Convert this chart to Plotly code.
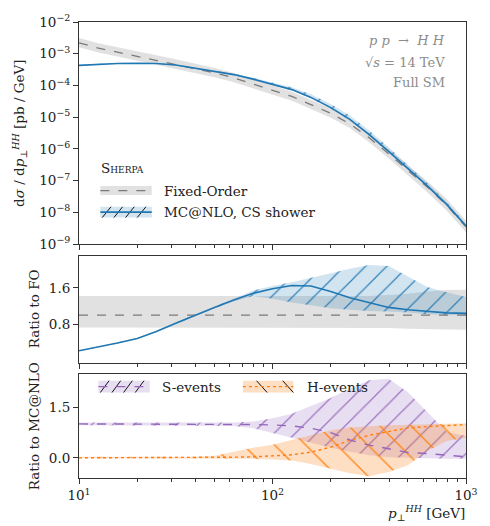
import plotly.graph_objects as go
import numpy as np

# ---------------- data ----------------
pt = [10, 12.6, 15.8, 20, 25.1, 31.6, 39.8, 50.1, 63.1, 79.4, 100, 126, 158, 200,
      251, 316, 398, 501, 631, 794, 1000]

# top panel: d sigma / d pT  [pb/GeV]
fo_xsec = [2.19e-3, 1.51e-3, 1.12e-3, 8.3e-4, 6.3e-4, 4.7e-4, 3.5e-4, 2.5e-4, 1.74e-4,
           1.12e-4, 7.2e-5, 4.5e-5, 2.5e-5, 1.32e-5, 6.2e-6, 2.24e-6, 7.1e-7, 2.14e-7,
           6.3e-8, 1.70e-8, 3.5e-9]
mc_xsec = [4.3e-4, 4.7e-4, 4.9e-4, 5.0e-4, 4.9e-4, 4.4e-4, 3.5e-4, 2.8e-4, 2.2e-4,
           1.58e-4, 1.10e-4, 7.4e-5, 4.2e-5, 2.0e-5, 8.5e-6, 2.8e-6, 8.3e-7, 2.4e-7,
           6.8e-8, 1.78e-8, 3.7e-9]
# MC@NLO uncertainty band in the top panel (relative to central value)
mc_top_lo = [0.97, 0.97, 0.97, 0.97, 0.97, 0.97, 0.97, 0.97, 0.96, 0.95, 0.94, 0.93,
             0.93, 0.93, 0.93, 0.93, 0.93, 0.93, 0.93, 0.94, 0.94]
mc_top_hi = [1.03, 1.03, 1.03, 1.03, 1.03, 1.03, 1.04, 1.05, 1.07, 1.10, 1.14, 1.19,
             1.25, 1.30, 1.34, 1.36, 1.36, 1.30, 1.24, 1.20, 1.16]

# middle panel: ratio to fixed order
fo_band_lo = [0.73, 0.73, 0.73, 0.73, 0.73, 0.73, 0.73, 0.73, 0.73, 0.73, 0.73, 0.73,
              0.73, 0.73, 0.73, 0.73, 0.72, 0.70, 0.69, 0.68, 0.68]
fo_band_hi = [1.42, 1.42, 1.42, 1.42, 1.42, 1.42, 1.42, 1.42, 1.42, 1.42, 1.42, 1.42,
              1.42, 1.42, 1.42, 1.42, 1.44, 1.47, 1.52, 1.55, 1.56]
mc_ratio = [0.22, 0.30, 0.39, 0.49, 0.64, 0.82, 1.00, 1.17, 1.33, 1.48, 1.58, 1.65,
            1.64, 1.52, 1.38, 1.27, 1.17, 1.12, 1.08, 1.05, 1.04]
mc_band_lo = [0.21, 0.29, 0.38, 0.48, 0.63, 0.80, 0.98, 1.15, 1.30, 1.42, 1.36, 1.28,
              1.22, 1.15, 1.12, 1.09, 1.08, 1.06, 1.02, 1.00, 1.00]
mc_band_hi = [0.23, 0.31, 0.40, 0.50, 0.65, 0.84, 1.02, 1.19, 1.36, 1.54, 1.64, 1.72,
              1.82, 1.92, 2.02, 2.10, 2.08, 1.85, 1.62, 1.50, 1.40]

# bottom panel: ratio to MC@NLO
s_ratio = [1.01, 1.01, 1.01, 1.01, 1.01, 1.01, 1.00, 1.00, 1.00, 0.99, 0.98, 0.95,
           0.88, 0.75, 0.53, 0.38, 0.27, 0.16, 0.13, 0.09, 0.03]
s_lo = [0.97, 0.97, 0.97, 0.97, 0.97, 0.97, 0.97, 0.97, 0.95, 0.88, 0.75, 0.60,
        0.45, 0.30, 0.18, 0.08, 0.02, 0.00, -0.02, -0.03, -0.03]
s_hi = [1.05, 1.05, 1.05, 1.05, 1.05, 1.05, 1.05, 1.05, 1.05, 1.08, 1.18, 1.31,
        1.54, 1.78, 2.06, 2.31, 2.35, 1.95, 1.35, 0.78, 0.65]
h_ratio = [0.0, 0.0, 0.0, 0.0, 0.0, 0.0, 0.01, 0.01, 0.02, 0.03, 0.05, 0.09,
           0.17, 0.32, 0.52, 0.67, 0.78, 0.89, 0.93, 0.96, 0.99]
h_lo = [-0.01, -0.01, -0.01, -0.01, -0.01, -0.01, -0.01, -0.01, -0.02, -0.03, -0.05,
        -0.08, -0.18, -0.33, -0.46, -0.55, -0.42, -0.22, 0.20, 0.50, 0.60]
h_hi = [0.03, 0.03, 0.03, 0.03, 0.03, 0.03, 0.03, 0.06, 0.18, 0.30, 0.39, 0.55,
        0.68, 0.82, 0.90, 0.94, 0.97, 1.00, 1.00, 1.02, 1.03]

x_tickvals = [10, 100, 1000]
x_ticktext = ["10<sup>1</sup>", "10<sup>2</sup>", "10<sup>3</sup>"]
y_tickvals = [1e-9, 1e-8, 1e-7, 1e-6, 1e-5, 1e-4, 1e-3, 1e-2]
y_ticktext = ["10<sup>\u22129</sup>", "10<sup>\u22128</sup>", "10<sup>\u22127</sup>",
              "10<sup>\u22126</sup>", "10<sup>\u22125</sup>", "10<sup>\u22124</sup>",
              "10<sup>\u22123</sup>", "10<sup>\u22122</sup>"]

# ---------------- styling ----------------
FONT = "DejaVu Serif"
FS = 13.5
BLUE = "#1f77b4"
BLUE_BG = "rgba(31,119,180,0.20)"
GRAY_BG = "rgba(200,200,200,0.55)"
FO_COL = "#7a7a7a"
PURPLE = "#9467bd"
PURPLE_BG = "rgba(148,103,189,0.22)"
ORANGE = "#ff7f0e"
ORANGE_BG = "rgba(255,127,14,0.25)"

W, H = 490, 526
ML, MR, MT, MB = 79, 12, 14, 48
PW, PH = W - ML - MR, H - MT - MB


def px(x):
    return (x - ML) / PW


def py(y):
    return (H - MB - y) / PH


fig = go.Figure()


def band(x, lo, hi, color, xa, ya, pattern=None):
    xs = list(x) + list(x)[::-1]
    ys = list(lo) + list(hi)[::-1]
    kw = dict(x=xs, y=ys, fill="toself", fillcolor=color, mode="lines",
              line=dict(width=0, color=color), hoverinfo="skip", showlegend=False,
              xaxis=xa, yaxis=ya)
    if pattern is not None:
        kw["fillpattern"] = pattern
    fig.add_trace(go.Scatter(**kw))


fo = np.array(fo_xsec)
mc = np.array(mc_xsec)

blue_pat = dict(shape="/", size=15, solidity=0.08, fgcolor=BLUE, bgcolor=BLUE_BG, fgopacity=0.9)
purple_pat = dict(shape="/", size=15, solidity=0.08, fgcolor=PURPLE, bgcolor=PURPLE_BG, fgopacity=0.9)
orange_pat = dict(shape="\\", size=22, solidity=0.06, fgcolor=ORANGE, bgcolor=ORANGE_BG, fgopacity=0.95)

# top panel
band(pt, fo * np.array(fo_band_lo), fo * np.array(fo_band_hi), GRAY_BG, "x", "y")
band(pt, mc * np.array(mc_top_lo), mc * np.array(mc_top_hi), BLUE_BG, "x", "y", blue_pat)
fig.add_trace(go.Scatter(x=pt, y=fo_xsec, mode="lines", line=dict(color=FO_COL, width=1.3, dash="dash"),
                         showlegend=False, xaxis="x", yaxis="y"))
fig.add_trace(go.Scatter(x=pt, y=mc_xsec, mode="lines", line=dict(color=BLUE, width=1.6),
                         showlegend=False, xaxis="x", yaxis="y"))

# middle panel
band(pt, fo_band_lo, fo_band_hi, GRAY_BG, "x2", "y2")
band(pt, mc_band_lo, mc_band_hi, BLUE_BG, "x2", "y2", blue_pat)
fig.add_trace(go.Scatter(x=pt, y=fo / fo, mode="lines", line=dict(color=FO_COL, width=1.3, dash="dash"),
                         showlegend=False, xaxis="x2", yaxis="y2"))
fig.add_trace(go.Scatter(x=pt, y=mc_ratio, mode="lines", line=dict(color=BLUE, width=1.6),
                         showlegend=False, xaxis="x2", yaxis="y2"))

# bottom panel
band(pt, s_lo, s_hi, PURPLE_BG, "x3", "y3", purple_pat)
band(pt, h_lo, h_hi, ORANGE_BG, "x3", "y3", orange_pat)
fig.add_trace(go.Scatter(x=pt, y=s_ratio, mode="lines", line=dict(color=PURPLE, width=1.4, dash="dash"),
                         showlegend=False, xaxis="x3", yaxis="y3"))
fig.add_trace(go.Scatter(x=pt, y=h_ratio, mode="lines", line=dict(color=ORANGE, width=1.4, dash="dot"),
                         showlegend=False, xaxis="x3", yaxis="y3"))

minor_x = [m * 10 ** e for e in (1, 2) for m in range(2, 10)]
axcommon = dict(showgrid=False, zeroline=False, showline=True, mirror=True, linecolor="#333",
                linewidth=1, ticks="outside", tickcolor="#333", ticklen=5,
                tickfont=dict(family=FONT, size=FS, color="#222"))
xcommon = dict(axcommon, type="log", range=[1, 3], tickmode="array", tickvals=x_tickvals,
               ticktext=x_ticktext,
               minor=dict(tickmode="array", tickvals=minor_x, ticks="outside", ticklen=3, tickcolor="#333"))

fig.update_layout(
    width=W, height=H, margin=dict(l=ML, r=MR, t=MT, b=MB),
    paper_bgcolor="white", plot_bgcolor="white", showlegend=False,
    font=dict(family=FONT),
    xaxis=dict(xcommon, anchor="y", showticklabels=False, domain=[0, 1]),
    xaxis2=dict(xcommon, anchor="y2", showticklabels=False, domain=[0, 1]),
    xaxis3=dict(xcommon, anchor="y3", domain=[0, 1]),
    yaxis=dict(axcommon, type="log", range=[-9, -2], domain=[py(240), py(14)], tickmode="array",
               tickvals=y_tickvals, ticktext=y_ticktext, anchor="x"),
    yaxis2=dict(axcommon, range=[-0.05, 2.3], domain=[py(361), py(252)], tickmode="array",
                tickvals=[0.8, 1.6], ticktext=["0.8", "1.6"], anchor="x2"),
    yaxis3=dict(axcommon, range=[-0.6, 2.5], domain=[py(478), py(372)], tickmode="array",
                tickvals=[0.0, 1.5], ticktext=["0.0", "1.5"], anchor="x3"),
)

ann = []


def text(x, y, s, size=FS, color="#222", xanchor="left", angle=0, **fkw):
    ann.append(dict(x=px(x), y=py(y), xref="paper", yref="paper", text=s, showarrow=False,
                    xanchor=xanchor, yanchor="middle", textangle=angle,
                    font=dict(family=FONT, size=size, color=color, **fkw)))


# axis titles
text(18, 127, "d<i>\u03c3</i> / d<i>p</i><sub>\u22a5</sub><sup><i>HH</i></sup> [pb / GeV]",
     xanchor="center", angle=-90)
text(33, 306, "Ratio to FO", xanchor="center", angle=-90)
text(33, 425, "Ratio to MC@NLO", xanchor="center", angle=-90)
text(479, 514, "<i>p</i><sub>\u22a5</sub><sup><i>HH</i></sup> [GeV]", xanchor="right")

# process info
GR = "#8c8c8c"
text(458, 33, "<i>p p</i>  \u2192  <i>H H</i>", size=13, color=GR, xanchor="right")
text(458, 55, "\u221a<i>s</i> = 14 TeV", size=13, color=GR, xanchor="right")
text(458, 76, "Full SM", size=13, color=GR, xanchor="right")

# legend texts
text(100, 163, "Sherpa", variant="small-caps")
text(165, 185.5, "Fixed-Order")
text(165, 207.5, "MC@NLO, CS shower")
text(163, 385, "S-events")
text(312, 385, "H-events")

shapes = []


def rect(x0, y0, x1, y1, color):
    shapes.append(dict(type="rect", xref="paper", yref="paper", x0=px(x0), x1=px(x1), y0=py(y1),
                       y1=py(y0), fillcolor=color, line=dict(width=0), layer="above"))


def seg(x0, y0, x1, y1, color, width=1.0, dash="solid"):
    shapes.append(dict(type="line", xref="paper", yref="paper", x0=px(x0), x1=px(x1), y0=py(y0),
                       y1=py(y1), line=dict(color=color, width=width, dash=dash), layer="above"))


# Fixed-Order legend
rect(101, 181, 154, 190, GRAY_BG)
seg(101, 185.5, 154, 185.5, FO_COL, 1.3, "dash")
# MC@NLO legend
rect(101, 202, 154, 213, BLUE_BG)
for x0 in (103, 115, 127, 139):
    seg(x0, 213, x0 + 9, 202, "#111", 1.0)
seg(101, 207.5, 154, 207.5, BLUE, 1.6)
# S-events legend
rect(99, 379, 152, 391, PURPLE_BG)
for x0 in (101, 113, 125, 137):
    seg(x0, 391, x0 + 9, 379, "#111", 1.0)
seg(99, 385, 152, 385, PURPLE, 1.4, "dash")
# H-events legend
rect(248, 379, 300, 391, ORANGE_BG)
for x0 in (262, 289):
    seg(x0, 379, x0 + 11, 391, "#111", 1.0)
seg(248, 385, 300, 385, ORANGE, 1.4, "dot")

fig.update_layout(annotations=ann, shapes=shapes)
fig.write_html("out.html")
